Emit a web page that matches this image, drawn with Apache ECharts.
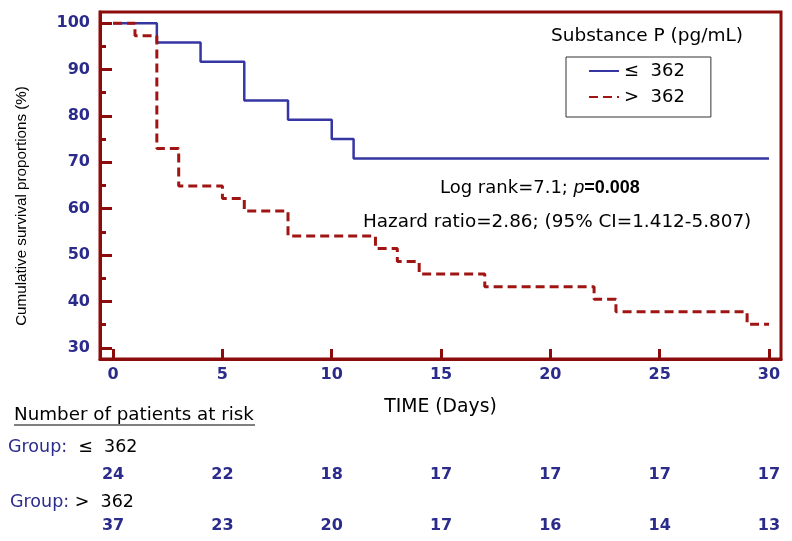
<!DOCTYPE html>
<html><head><meta charset="utf-8">
<script src="https://cdn.jsdelivr.net/npm/echarts@6/dist/echarts.min.js"></script>
<style>html,body{margin:0;padding:0;background:#fff}#c{width:792px;height:541px}</style>
</head><body><div id="c"></div>
<script>
const groupLowName = '\u2264  362';
const groupHighName = '>  362';
const lowTimes = [0, 2, 4, 6, 8, 10, 11, 30];
const lowSurv = [100, 95.8, 91.7, 83.3, 79.2, 75.0, 70.8, 70.8];
const highTimes = [0, 1, 2, 3, 5, 6, 8, 12, 13, 14, 17, 22, 23, 29, 30];
const highSurv = [100, 97.3, 73.0, 64.9, 62.2, 59.5, 54.1, 51.4, 48.6, 45.9, 43.2, 40.5, 37.8, 35.1, 35.1];
const xTickValues = [0, 5, 10, 15, 20, 25, 30];
const yTickValues = [30, 40, 50, 60, 70, 80, 90, 100];
const yMinorValues = [35, 45, 55, 65, 75, 85, 95];
const atRiskTimes = [0, 5, 10, 15, 20, 25, 30];
const atRiskLow = [24, 22, 18, 17, 17, 17, 17];
const atRiskHigh = [37, 23, 20, 17, 16, 14, 13];

const FONT = 'DejaVu Sans, Liberation Sans, sans-serif';
const ARIAL = 'Liberation Sans, Arial, sans-serif';
const FRAME = '#8c0c0c';
const NAVY = '#2b2b8c';
const BLUE = '#3636a2';
const RED = '#a01414';
const XMIN = -0.6, XMAX = 30.55, YMIN = 27.6, YMAX = 102.4;

const riskLabel = {show: true, position: 'inside', formatter: p => String(p.value[2]), color: NAVY, fontWeight: 'bold', fontSize: 16, fontFamily: FONT, opacity: 1};

const chart = echarts.init(document.getElementById('c'), null, {renderer: 'canvas'});
chart.setOption({
  animation: false,
  backgroundColor: '#fff',
  textStyle: {fontFamily: FONT},
  grid: [
    {left: 100, top: 12, right: 11, bottom: 182, show: true, borderColor: FRAME, borderWidth: 3, backgroundColor: 'transparent'},
    {left: 100, right: 11, top: 475, height: 51}
  ],
  xAxis: [
    {
      type: 'value', gridIndex: 0, min: XMIN, max: XMAX,
      axisLine: {show: true, onZero: false, lineStyle: {color: FRAME, width: 3}},
      axisTick: {show: true, inside: true, length: 10, customValues: xTickValues, lineStyle: {color: FRAME, width: 3}},
      axisLabel: {customValues: xTickValues, color: NAVY, fontWeight: 'bold', fontSize: 16, margin: 8, fontFamily: FONT},
      splitLine: {show: false},
      name: 'TIME (Days)', nameLocation: 'middle', nameGap: 39,
      nameTextStyle: {color: '#000', fontSize: 18.8, fontFamily: FONT}
    },
    {type: 'value', gridIndex: 1, min: XMIN, max: XMAX, show: false}
  ],
  yAxis: [
    {
      type: 'value', gridIndex: 0, min: YMIN, max: YMAX,
      axisLine: {show: true, onZero: false, lineStyle: {color: FRAME, width: 3}},
      axisTick: {show: true, inside: true, length: 12, customValues: yTickValues, lineStyle: {color: FRAME, width: 3}},
      axisLabel: {customValues: yTickValues, color: NAVY, fontWeight: 'bold', fontSize: 16, margin: 10, fontFamily: FONT},
      splitLine: {show: false}
    },
    {
      type: 'value', gridIndex: 0, min: YMIN, max: YMAX, position: 'left', offset: 0,
      axisLine: {show: false, onZero: false},
      axisTick: {show: true, inside: true, length: 6, customValues: yMinorValues, lineStyle: {color: FRAME, width: 3}},
      axisLabel: {show: false},
      splitLine: {show: false}
    },
    {type: 'value', gridIndex: 1, min: 0, max: 1, show: false}
  ],
  legend: {
    data: [groupLowName, groupHighName],
    orient: 'vertical', left: 566, top: 57,
    padding: [5, 26, 11, 22],
    borderColor: '#333', borderWidth: 1,
    itemWidth: 30, itemHeight: 14, itemGap: 8,
    itemStyle: {opacity: 0},
    textStyle: {fontSize: 18, color: '#000', fontFamily: FONT},
    selectedMode: false
  },
  series: [
    {
      name: groupLowName, type: 'line', xAxisIndex: 0, yAxisIndex: 0,
      step: 'end', symbol: 'none', z: 3,
      data: lowTimes.map((t, i) => [t, lowSurv[i]]),
      lineStyle: {color: BLUE, width: 2.5}, itemStyle: {color: BLUE}
    },
    {
      name: groupHighName, type: 'line', xAxisIndex: 0, yAxisIndex: 0,
      step: 'end', symbol: 'none', z: 4,
      data: highTimes.map((t, i) => [t, highSurv[i]]),
      lineStyle: {color: RED, width: 3, type: [9, 5]}, itemStyle: {color: RED}
    },
    {
      name: 'riskLow', type: 'scatter', xAxisIndex: 1, yAxisIndex: 2, silent: true,
      symbolSize: 1, itemStyle: {color: 'transparent', opacity: 1},
      data: atRiskTimes.map((t, i) => [t, 1, atRiskLow[i]]),
      label: riskLabel
    },
    {
      name: 'riskHigh', type: 'scatter', xAxisIndex: 1, yAxisIndex: 2, silent: true,
      symbolSize: 1, itemStyle: {color: 'transparent', opacity: 1},
      data: atRiskTimes.map((t, i) => [t, 0, atRiskHigh[i]]),
      label: riskLabel
    }
  ],
  graphic: [
    {type: 'text', x: 22, y: 206, rotation: Math.PI / 2,
      style: {text: 'Cumulative survival proportions (%)', fill: '#000', fontSize: 15.2, fontFamily: ARIAL, align: 'center', verticalAlign: 'middle'}},
    {type: 'text', x: 647, y: 36,
      style: {text: 'Substance P (pg/mL)', fill: '#000', fontSize: 18.5, fontFamily: FONT, align: 'center', verticalAlign: 'middle'}},
    {type: 'text', x: 440, y: 188,
      style: {text: '{n|Log rank=7.1; }{i|p}{b|=0.008}', verticalAlign: 'middle',
        rich: {
          n: {fontSize: 18, fontFamily: FONT, fill: '#000'},
          i: {fontSize: 19, fontFamily: ARIAL, fontStyle: 'italic', fill: '#000'},
          b: {fontSize: 18, fontFamily: ARIAL, fontWeight: 'bold', fill: '#000'}
        }}},
    {type: 'text', x: 363, y: 222,
      style: {text: 'Hazard ratio=2.86; (95% CI=1.412-5.807)', fill: '#000', fontSize: 18.4, fontFamily: FONT, verticalAlign: 'middle'}},
    {type: 'text', x: 14, y: 415,
      style: {text: 'Number of patients at risk', fill: '#000', fontSize: 18.3, fontFamily: FONT, verticalAlign: 'middle'}},
    {type: 'line', shape: {x1: 14, y1: 425, x2: 255, y2: 425}, style: {stroke: '#000', lineWidth: 1.2}},
    {type: 'text', x: 8, y: 447,
      style: {text: '{g|Group:}{v|  \u2264  362}', verticalAlign: 'middle',
        rich: {g: {fontSize: 17.5, fontFamily: FONT, fill: NAVY}, v: {fontSize: 17.5, fontFamily: FONT, fill: '#000'}}}},
    {type: 'text', x: 10, y: 502,
      style: {text: '{g|Group:}{v| >  362}', verticalAlign: 'middle',
        rich: {g: {fontSize: 17.5, fontFamily: FONT, fill: NAVY}, v: {fontSize: 17.5, fontFamily: FONT, fill: '#000'}}}}
  ]
});
</script>
</body></html>
